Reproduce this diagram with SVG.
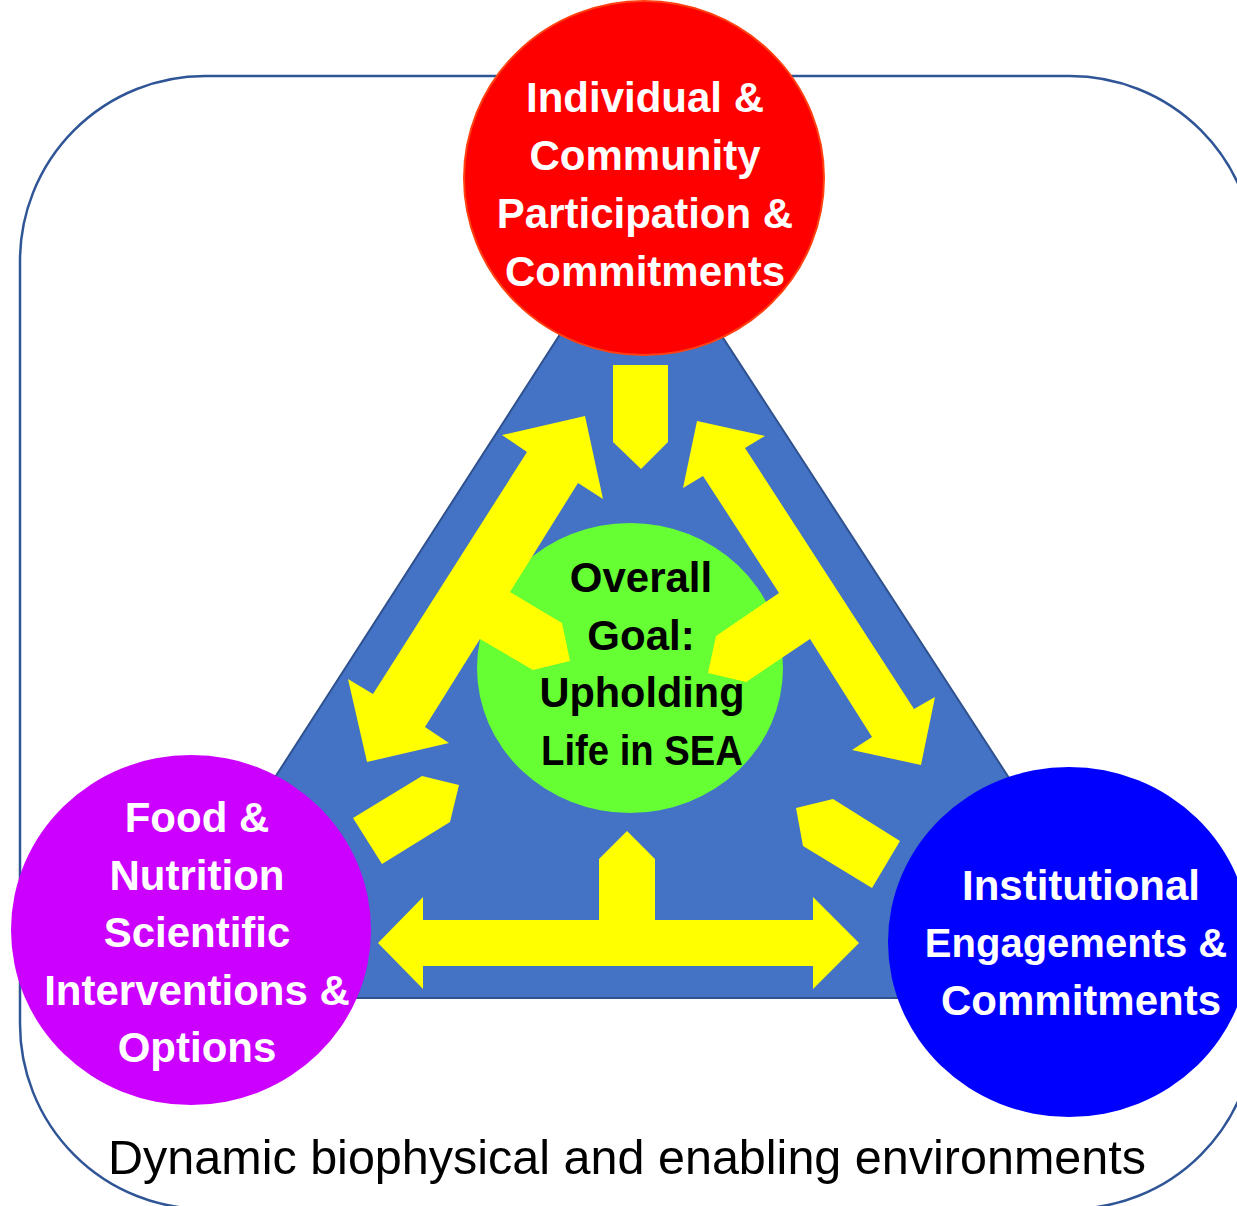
<svg xmlns="http://www.w3.org/2000/svg" width="1237" height="1206" viewBox="0 0 1237 1206">
  <style>
    .lbl { font-family: "Liberation Sans", Arial, sans-serif; font-weight: bold; font-size: 42px; text-anchor: middle; }
    .w { fill: #FFFFFF; }
    .k { fill: #000000; }
    .arrow { fill: #FFFF00; stroke: none; }
    .foot { font-family: "Liberation Sans", Arial, sans-serif; font-size: 48.5px; fill: #000000; text-anchor: middle; }
  </style>
  <rect width="1237" height="1206" fill="#FFFFFF"/>
  <g id="frame">
    <rect x="20" y="76" width="1235" height="1133" rx="185" ry="185" fill="#FFFFFF" stroke="#2F5597" stroke-width="2.5"/>
  </g>
  <g id="triangle">
    <polygon points="640,210 133,998 1152,998" fill="#4472C4" stroke="#2F528F" stroke-width="2"/>
  </g>
  <g id="goal">
    <ellipse cx="630" cy="668" rx="153" ry="145" fill="#66FF33"/>
  </g>
  <g id="connectors">
    <polygon class="arrow" points="613,365 668,365 668,442 641,469 613,442"/>
    <polygon class="arrow" points="585,416 603,499 578,483 510,592 562,623 570,661 533,670 480,639 425,727 449,743 367,762 348,679 373,694 527,452 502,435"/>
    <polygon class="arrow" points="697,421 765,436 745,448 914,709 935,697 921,765 852,750 872,737 810,639 746,682 708,673 716,636 779,593 703,476 683,488"/>
    <polygon class="arrow" points="378,943 423,897 423,920 599,920 599,859 627,831 655,859 655,920 813,920 813,897 859,943 813,989 813,966 423,966 423,989"/>
    <polygon class="arrow" points="353,818 422,776 459,785 450,822 382,864"/>
    <polygon class="arrow" points="833,799 900,841 872,888 803,846 796,808"/>
  </g>
  <g id="goal-text">
    <text class="lbl k" x="641" y="592">Overall</text>
    <text class="lbl k" x="641" y="650">Goal:</text>
    <text class="lbl k" x="642" y="707" textLength="205" lengthAdjust="spacingAndGlyphs">Upholding</text>
    <text class="lbl k" x="642" y="765" textLength="202" lengthAdjust="spacingAndGlyphs">Life in SEA</text>
  </g>
  <g id="community">
    <ellipse cx="644" cy="178" rx="180" ry="177" fill="#FF0000" stroke="#FF4010" stroke-width="2"/>
    <text class="lbl w" x="645" y="112">Individual &amp;</text>
    <text class="lbl w" x="645" y="170">Community</text>
    <text class="lbl w" x="645" y="228">Participation &amp;</text>
    <text class="lbl w" x="645" y="286">Commitments</text>
  </g>
  <g id="food">
    <ellipse cx="191" cy="930" rx="180" ry="175" fill="#CC00FF"/>
    <text class="lbl w" x="197" y="832">Food &amp;</text>
    <text class="lbl w" x="197" y="890">Nutrition</text>
    <text class="lbl w" x="197" y="947">Scientific</text>
    <text class="lbl w" x="197" y="1005">Interventions &amp;</text>
    <text class="lbl w" x="197" y="1062">Options</text>
  </g>
  <g id="institutional">
    <ellipse cx="1069" cy="942" rx="181" ry="175" fill="#0000FF"/>
    <text class="lbl w" x="1081" y="900">Institutional</text>
    <text class="lbl w" x="1076" y="957" style="font-size:40px">Engagements &amp;</text>
    <text class="lbl w" x="1081" y="1015">Commitments</text>
  </g>
  <g id="caption">
    <text class="foot" x="627" y="1174">Dynamic biophysical and enabling environments</text>
  </g>
</svg>
